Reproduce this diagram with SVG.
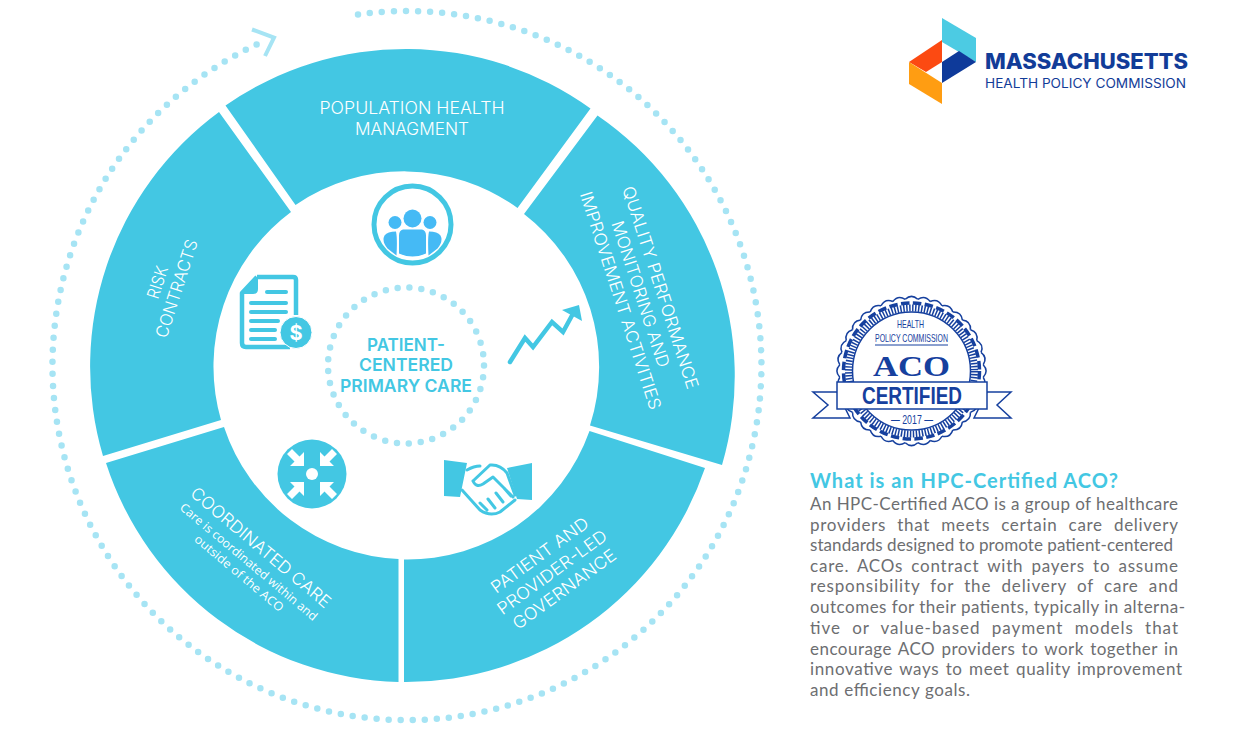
<svg xmlns="http://www.w3.org/2000/svg" xmlns:xlink="http://www.w3.org/1999/xlink" width="1240" height="732" viewBox="0 0 1240 732">
<style>
.seg{fill:#43c7e3}
.lbl{font-family:Inter,"Liberation Sans",sans-serif;font-weight:300;fill:#fff;font-size:17px;text-anchor:middle}
.sub{font-family:"Open Sans","Liberation Sans",sans-serif;fill:#fff;font-size:12px;text-anchor:middle}
.dots{fill:none;stroke:#a6e4f4;stroke-width:6.5;stroke-linecap:round}
.ic{fill:#43c7e3}
.bd{font-family:Lato,"Liberation Sans",sans-serif;font-size:17px;fill:#6d6e71}
.sc{fill:none;stroke:#16409e;stroke-width:1.5}
.hs{fill:none;stroke:#43c7e3;stroke-width:3;stroke-linecap:round;stroke-linejoin:round}
</style>
<defs><path id="sc" class="sc" d="M-6.270-71.700Q0-77.500 6.270-71.700"/></defs>
<rect width="1240" height="732" fill="#fff"/>
<g id="connectors">
<path class="dots" stroke-dasharray="0 12.05" d="M358 14.500A354.500 354.500 0 1 1 260 43"/>
<path d="M252 29.500L274 37.500L265 56" fill="none" stroke="#a6e4f4" stroke-width="4"/>
</g>
<g id="node-population"><path class="seg" d="M225.500 105.500A316 316 0 0 1 590.500 108.500L517.500 208A193 193 0 0 0 295.500 205Z"/>
<text class="lbl" x="412" y="114" textLength="185" lengthAdjust="spacingAndGlyphs">POPULATION HEALTH</text><text class="lbl" x="412" y="135" textLength="114" lengthAdjust="spacingAndGlyphs">MANAGMENT</text>
<g transform="translate(412.500 224.500)"><circle r="38.500" fill="#fff" stroke="#43c7e3" stroke-width="5"/>
<g fill="#45baf5"><circle cy="-6" r="9"/><circle cx="-17.500" cy="-2" r="6.500"/><circle cx="17.500" cy="-2" r="6.500"/>
<path d="M-9.500 5H9.500Q13.500 6 13.500 11V29Q0 35-13.500 29V11Q-13.500 6-9.500 5ZM-16.500 7Q-25 7-28 11-31 17-25 24L-16 31Q-15 14-16.500 7ZM16.500 7Q25 7 28 11 31 17 25 24L16 31Q15 14 16.500 7Z"/></g></g></g>
<g id="node-quality"><path class="seg" d="M597.500 115.500A316 316 0 0 1 722 465L590 425.500A193 193 0 0 0 524 214Z"/>
<g transform="translate(654.800 289.400) rotate(72)"><text class="lbl" x="0" y="0" textLength="212" lengthAdjust="spacingAndGlyphs">QUALITY PERFORMANCE</text><text class="lbl" x="0" y="21" textLength="153" lengthAdjust="spacingAndGlyphs">MONITORING AND</text><text class="lbl" x="0" y="42" textLength="228" lengthAdjust="spacingAndGlyphs">IMPROVEMENT ACTIVITIES</text></g>
<g transform="translate(510 362)"><path d="M0 0L15-24 23-15 42-40 53-30 65-52" fill="none" stroke="#43c7e3" stroke-width="4.500" stroke-linecap="round"/><path class="ic" d="M69-57L52-52 72-41Z"/></g></g>
<g id="node-patient"><path class="seg" d="M589.500 431A193 193 0 0 1 404 559.500V682A316 316 0 0 0 705 468Z"/>
<g transform="translate(555.500 577) rotate(-36)"><text class="lbl" x="0" y="-21" textLength="116" lengthAdjust="spacingAndGlyphs">PATIENT AND</text><text class="lbl" x="0" y="0" textLength="131" lengthAdjust="spacingAndGlyphs">PROVIDER-LED</text><text class="lbl" x="0" y="21" textLength="123" lengthAdjust="spacingAndGlyphs">GOVERNANCE</text></g>
<g id="handshake"><path class="ic" d="M444 460L467 463 460 497 444 496ZM507 468L532 463V500L517 499Z"/>
<path class="hs" d="M462 490L480 510Q490 517 500 512L515 500M467 470Q474 466 480 466M473 481L490 465Q500 464 507 473L515 495M473 481Q476 488 483 484L493 477 513 497M480 503L487 510M488 499L495 508M496 493L503 502M504 488L511 496"/></g></g>
<g id="node-coordinated"><path class="seg" d="M106 463L224 427A193 193 0 0 0 398.500 559V682A316 316 0 0 1 106 463Z"/>
<g transform="translate(257 552) rotate(40)"><text class="lbl" x="0" y="0" textLength="177" lengthAdjust="spacingAndGlyphs">COORDINATED CARE</text><text class="sub" x="0" y="17" textLength="175" lengthAdjust="spacingAndGlyphs">Care is coordinated within and</text><text class="sub" x="0" y="32" textLength="112" lengthAdjust="spacingAndGlyphs">outside of the ACO</text></g>
<g transform="translate(312 474)"><circle r="34.500" class="ic"/><g fill="#fff"><circle r="6"/><path d="M-8-8V-22L-12.500-17.500-20-25-25-20-17.500-12.500-22-8Z"/><path d="M8-8V-22L12.500-17.500 20-25 25-20 17.500-12.500 22-8Z"/><path d="M-8 8V22L-12.500 17.500-20 25-25 20-17.500 12.500-22 8Z"/><path d="M8 8V22L12.500 17.500 20 25 25 20 17.500 12.500 22 8Z"/></g></g></g>
<g id="node-risk"><path class="seg" d="M219 112A316 316 0 0 0 103 456L221 420A193 193 0 0 1 291 212Z"/>
<g transform="translate(182.200 290.400) rotate(-72)"><text class="lbl" x="0" y="-20" textLength="33" lengthAdjust="spacingAndGlyphs">RISK</text><text class="lbl" x="0" y="0" textLength="102" lengthAdjust="spacingAndGlyphs">CONTRACTS</text></g>
<g transform="translate(240 275)"><path fill="none" stroke="#43c7e3" stroke-width="4.500" stroke-linejoin="round" d="M17 2H53Q56 2 56 5V40M50 72H6Q2 72 2 68V18L17 2"/><path class="ic" d="M2 19L18 2V14Q18 19 13 19Z"/><g class="ic"><rect x="25" y="15" width="23" height="4" rx="2"/><rect x="9" y="26" width="39" height="4" rx="2"/><rect x="9" y="35" width="39" height="4" rx="2"/><rect x="9" y="44" width="31" height="4" rx="2"/><rect x="9" y="53" width="28" height="4" rx="2"/><rect x="9" y="62" width="28" height="4" rx="2"/></g><circle cx="56" cy="57.500" r="16" class="ic" stroke="#fff" stroke-width="1"/><text x="56" y="64.500" font-family="Inter,'Liberation Sans',sans-serif" font-size="20" font-weight="700" fill="#fff" text-anchor="middle">$</text></g></g>
<g id="node-center"><circle class="dots" cx="406" cy="365.500" r="78" stroke-dasharray="0 11.950"/>
<g font-family="Inter,'Liberation Sans',sans-serif" font-weight="600" font-size="17.500" fill="#43c7e3" text-anchor="middle"><text x="406" y="350.500" textLength="78" lengthAdjust="spacingAndGlyphs">PATIENT-</text><text x="406" y="371" textLength="94" lengthAdjust="spacingAndGlyphs">CENTERED</text><text x="406" y="392" textLength="132" lengthAdjust="spacingAndGlyphs">PRIMARY CARE</text></g></g>
<g id="logo"><path fill="#4ccbe3" d="M942 18L976 38V62L942 42Z"/><path fill="#fc4a12" d="M942 40V62L926 72 909 62Z"/><path fill="#0e3a9a" d="M942 83V62L959 51 976 62Z"/><path fill="#ff9d12" d="M909 62L942 83V104L909 84Z"/>
<text x="985" y="68.500" font-family="Inter,'Liberation Sans',sans-serif" font-weight="800" font-size="21" fill="#123c98" textLength="203" lengthAdjust="spacingAndGlyphs">MASSACHUSETTS</text>
<text x="985" y="87.500" font-family="Inter,'Liberation Sans',sans-serif" font-size="12.500" fill="#123c98" textLength="201" lengthAdjust="spacingAndGlyphs">HEALTH POLICY COMMISSION</text></g>
<g id="badge"><circle cx="911.500" cy="371" r="72" fill="#fff"/>
<g transform="translate(911.500 371)"><use xlink:href="#sc" href="#sc"/><use href="#sc" transform="rotate(10)"/><use href="#sc" transform="rotate(20)"/><use href="#sc" transform="rotate(30)"/><use href="#sc" transform="rotate(40)"/><use href="#sc" transform="rotate(50)"/><use href="#sc" transform="rotate(60)"/><use href="#sc" transform="rotate(70)"/><use href="#sc" transform="rotate(80)"/><use href="#sc" transform="rotate(90)"/><use href="#sc" transform="rotate(100)"/><use href="#sc" transform="rotate(110)"/><use href="#sc" transform="rotate(120)"/><use href="#sc" transform="rotate(130)"/><use href="#sc" transform="rotate(140)"/><use href="#sc" transform="rotate(150)"/><use href="#sc" transform="rotate(160)"/><use href="#sc" transform="rotate(170)"/><use href="#sc" transform="rotate(180)"/><use href="#sc" transform="rotate(190)"/><use href="#sc" transform="rotate(200)"/><use href="#sc" transform="rotate(210)"/><use href="#sc" transform="rotate(220)"/><use href="#sc" transform="rotate(230)"/><use href="#sc" transform="rotate(240)"/><use href="#sc" transform="rotate(250)"/><use href="#sc" transform="rotate(260)"/><use href="#sc" transform="rotate(270)"/><use href="#sc" transform="rotate(280)"/><use href="#sc" transform="rotate(290)"/><use href="#sc" transform="rotate(300)"/><use href="#sc" transform="rotate(310)"/><use href="#sc" transform="rotate(320)"/><use href="#sc" transform="rotate(330)"/><use href="#sc" transform="rotate(340)"/><use href="#sc" transform="rotate(350)"/></g>
<circle cx="911.500" cy="371" r="68" fill="none" stroke="#16409e" stroke-width="3.500" stroke-dasharray="8.500 3.400"/><circle cx="911.500" cy="371" r="63" fill="none" stroke="#16409e" stroke-width="7" stroke-dasharray="1.500 1.500"/><circle cx="911.500" cy="371" r="59" fill="#fff" stroke="#16409e" stroke-width="1.500"/>
<path d="M837 392H813L828 405 813 418H850ZM987 392H1011L997 405 1011 418H974Z" fill="#fff" stroke="#16409e" stroke-width="1.500"/>
<rect x="837" y="382" width="150" height="27" fill="#fff" stroke="#16409e" stroke-width="1.500"/>
<g text-anchor="middle" fill="#16409e"><text x="910.500" y="328" font-family="'Liberation Sans',sans-serif" font-size="11" textLength="27" lengthAdjust="spacingAndGlyphs">HEALTH</text><text x="911.500" y="341.500" font-family="'Liberation Sans',sans-serif" font-size="11" textLength="73" lengthAdjust="spacingAndGlyphs">POLICY COMMISSION</text><path d="M875 345H948" stroke="#16409e"/>
<text x="911.500" y="376" font-family="'Liberation Serif',serif" font-weight="700" font-size="30" textLength="77" lengthAdjust="spacingAndGlyphs">ACO</text><text x="912" y="404" font-family="'Liberation Sans',sans-serif" font-weight="700" font-size="23" textLength="100" lengthAdjust="spacingAndGlyphs">CERTIFIED</text><text x="912" y="424" font-family="'Liberation Sans',sans-serif" font-size="12" textLength="42" lengthAdjust="spacingAndGlyphs">— 2017 —</text></g></g>
<g id="copy"><text x="810" y="488" font-family="Lato,'Liberation Sans',sans-serif" font-weight="700" font-size="20" fill="#43c7e3" textLength="308">What is an HPC-Certified ACO?</text>
<text class="bd" x="810" y="510" textLength="368">An HPC-Certified ACO is a group of healthcare</text>
<text class="bd" x="810" y="531" textLength="368" word-spacing="6">providers that meets certain care delivery</text>
<text class="bd" x="810" y="551" textLength="363">standards designed to promote patient-centered</text>
<text class="bd" x="810" y="572" textLength="368" word-spacing="3">care. ACOs contract with payers to assume</text>
<text class="bd" x="810" y="592" textLength="368" word-spacing="5">responsibility for the delivery of care and</text>
<text class="bd" x="810" y="613" textLength="375">outcomes for their patients, typically in alterna-</text>
<text class="bd" x="810" y="634" textLength="368" word-spacing="6">tive or value-based payment models that</text>
<text class="bd" x="810" y="655" textLength="368" word-spacing="1.500">encourage ACO providers to work together in</text>
<text class="bd" x="810" y="675" textLength="372" word-spacing="1.500">innovative ways to meet quality improvement</text>
<text class="bd" x="810" y="696" textLength="160">and efficiency goals.</text></g>
</svg>
